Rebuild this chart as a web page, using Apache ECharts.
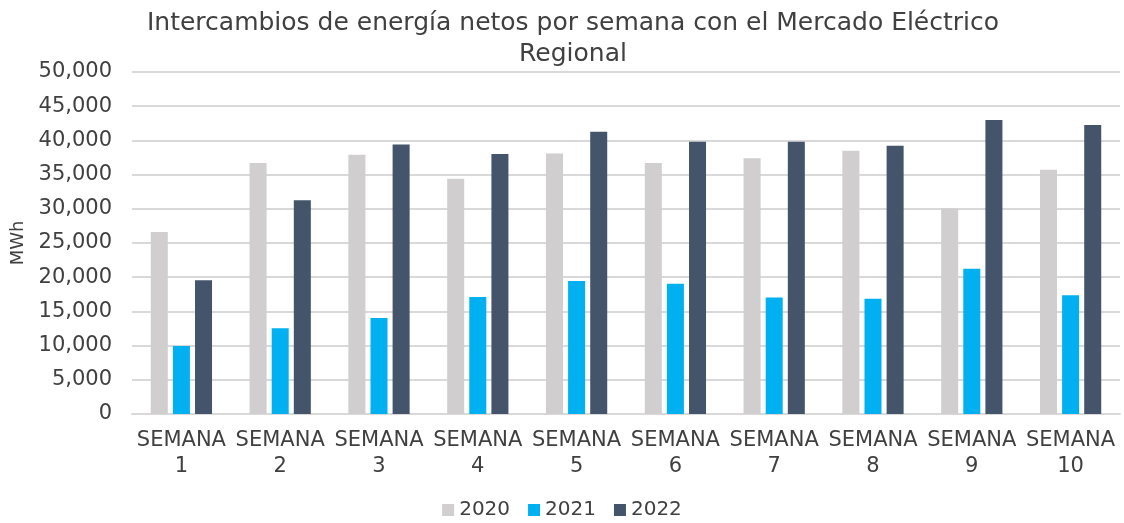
<!DOCTYPE html>
<html><head><meta charset="utf-8">
<script src="https://cdn.jsdelivr.net/npm/echarts@6/dist/echarts.min.js"></script>
<style>html,body{margin:0;padding:0;background:#fff}#c{width:1124px;height:523px}</style>
</head><body><div id="c"></div>
<script>
const categories = ["SEMANA\n1","SEMANA\n2","SEMANA\n3","SEMANA\n4","SEMANA\n5","SEMANA\n6","SEMANA\n7","SEMANA\n8","SEMANA\n9","SEMANA\n10"];
const s2020 = [26600, 36700, 37900, 34400, 38100, 36700, 37400, 38500, 30050, 35700];
const s2021 = [9950, 12550, 14050, 17100, 19450, 19050, 17050, 16850, 21250, 17350];
const s2022 = [19550, 31250, 39400, 38000, 41250, 39800, 39800, 39200, 43000, 42250];
const seriesNames = ["2020","2021","2022"];
const colors = ["#D0CECF","#00B0F0","#44546A"];
const font = "DejaVu Sans";
const chart = echarts.init(document.getElementById('c'));
const data = [s2020, s2021, s2022];
chart.setOption({
  animation:false,
  title:{text:"Intercambios de energía netos por semana con el Mercado Eléctrico\nRegional",left:568,textAlign:'center',top:3,
    textStyle:{fontFamily:font,fontSize:25,fontWeight:'normal',color:'#404040',lineHeight:31}},
  legend:{top:500,left:'center',itemWidth:12,itemHeight:12,itemGap:18,icon:'rect',padding:0,
    textStyle:{fontFamily:font,fontSize:20,color:'#404040'},data:seriesNames},
  grid:{left:132,right:4,top:72,bottom:109,containLabel:false,outerBoundsMode:'none'},
  xAxis:{type:'category',data:categories,
    axisLine:{lineStyle:{color:'#D9D9D9',width:2}},axisTick:{show:false},
    axisLabel:{fontFamily:font,fontSize:21,color:'#404040',lineHeight:26,margin:14,interval:0}},
  yAxis:{type:'value',min:0,max:50000,interval:5000,name:'MWh',nameLocation:'middle',nameGap:104,nameRotate:90,
    nameTextStyle:{fontFamily:font,fontSize:18,color:'#404040'},
    axisLine:{show:false},axisTick:{show:false},
    splitLine:{lineStyle:{color:'#D9D9D9',width:2}},
    axisLabel:{fontFamily:font,fontSize:21,color:'#404040',margin:20,formatter:v=>v.toLocaleString('en-US')}},
  series:seriesNames.map((n,i)=>({name:n,type:'bar',data:data[i],barGap:'30%',barCategoryGap:'38%',
    itemStyle:{color:colors[i]}}))
});
</script></body></html>
